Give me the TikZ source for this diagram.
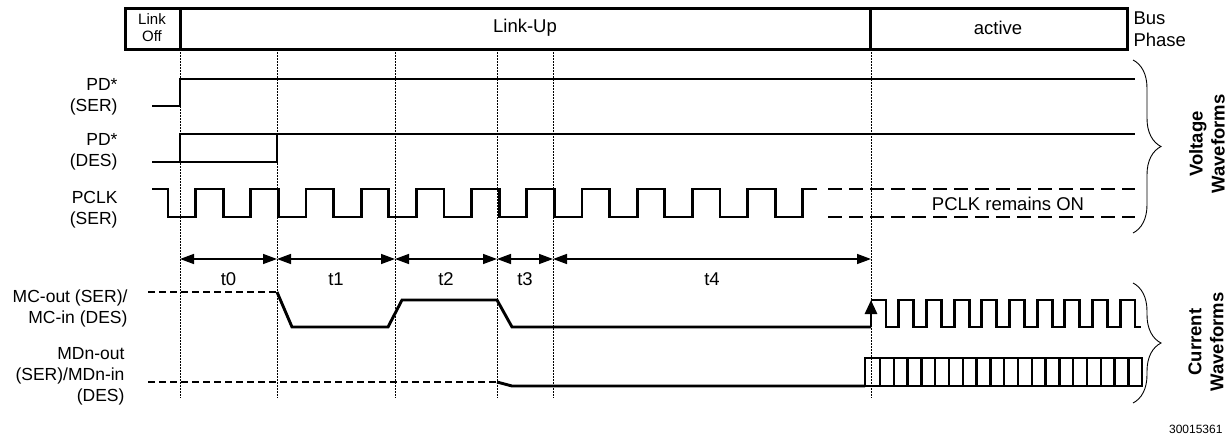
\documentclass[tikz,border=0pt]{standalone}
\usepackage{fontspec}
\setmainfont{Liberation Sans}
\usetikzlibrary{arrows.meta,decorations.pathreplacing}

\begin{document}
\begin{tikzpicture}[x=1pt,y=-1pt,
  wave/.style={line width=2.9pt},
  marker/.style={line width=0.9pt,dash pattern=on 1.6pt off 1.4pt},
  idle/.style={line width=2.9pt,dash pattern=on 7pt off 4pt},
  remain/.style={line width=2.9pt,dash pattern=on 14pt off 7pt},
  span/.style={line width=1.4pt,{Triangle[length=14pt,width=10pt]}-{Triangle[length=14pt,width=10pt]}},
  lbl/.style={font=\fontsize{17.5}{21}\selectfont,align=right,anchor=east},
  hdr/.style={font=\fontsize{18.5}{22}\selectfont},
  group/.style={decorate,decoration={brace,amplitude=28pt},line width=0.9pt},
  side/.style={font=\bfseries\fontsize{18.5}{22}\selectfont,rotate=90,align=center}]
  \useasboundingbox (0,0) rectangle (1229,440);

  % bus phase bar
  \draw[line width=3pt] (125,8) rectangle (1127,49);
  \draw[line width=3pt] (180,8) -- (180,49);
  \draw[line width=3pt] (870,8) -- (870,49);
  \node[font=\fontsize{15}{17}\selectfont,align=center] (off) at (152,28) {Link\\Off};
  \node[hdr] (up) at (525,28) {Link-Up};
  \node[hdr] (act) at (998,28) {active};
  \node[hdr,align=left,anchor=west] (bus) at (1130,29) {Bus\\Phase};

  \foreach \x in {180,277,395,497,553,871}
    \draw[marker] (\x,49) -- (\x,398);

  \node[lbl] (pdser) at (121,97) {PD*\\(SER)};
  \node[lbl] (pddes) at (121,152) {PD*\\(DES)};
  \node[lbl] (pclk) at (121,210) {PCLK\\(SER)};
  \node[lbl] (mc) at (131,308) {MC-out (SER)/\\MC-in (DES)};
  \node[lbl] (mdn) at (128,376) {MDn-out\\(SER)/MDn-in\\(DES)};

  \draw[wave] (152,106) -- (180,106) -- (180,79) -- (1135,79);

  \draw[wave] (152,162) -- (277,162) -- (277,134);
  \draw[wave] (180,162) -- (180,134) -- (1135,134);

  \draw[wave] (152,189) \foreach \k in {0,...,11} {
      -- ({168+55.2*\k},189) -- ({168+55.2*\k},217)
      -- ({195.6+55.2*\k},217) -- ({195.6+55.2*\k},189) } -- (817,189);
  \draw[remain] (828,189) -- (1135,189);
  \draw[remain] (828,217) -- (1135,217);
  \node[hdr] (on) at (1008,204) {PCLK remains ON};

  % intervals
  \coordinate (a0) at (180,259);
  \coordinate (a1) at (277,259);
  \coordinate (a2) at (395,259);
  \coordinate (a3) at (497,259);
  \coordinate (a4) at (553,259);
  \coordinate (a5) at (871,259);
  \draw[span] (a0) -- (a1) node[hdr,midway,below=10pt] (t0) {t0};
  \draw[span] (a1) -- (a2) node[hdr,midway,below=10pt] (t1) {t1};
  \draw[span] (a2) -- (a3) node[hdr,midway,below=10pt] (t2) {t2};
  \draw[span] (a3) -- (a4) node[hdr,midway,below=10pt] (t3) {t3};
  \draw[span] (a4) -- (a5) node[hdr,midway,below=10pt] (t4) {t4};

  \draw[idle] (148,292) -- (277,292);
  \draw[wave] (277,292) -- (292,327) -- (388,327) -- (402,300) -- (497,300)
    -- (512,327) -- (871,327);
  \draw[wave,-{Triangle[length=14pt,width=12pt]}] (871,327) -- (871,300);
  \draw[wave] (871,300) \foreach \k in {0,...,8} {
      -- ({886+27.7*\k},300) -- ({886+27.7*\k},327)
      -- ({898.7+27.7*\k},327) -- ({898.7+27.7*\k},300) }
    -- (1135,300) -- (1135,327) -- (1141,327);

  \draw[idle] (148,382) -- (497,382);
  \draw[wave] (497,382) -- (512,386) -- (865,386);
  \draw[wave] (865,358) rectangle (1142,386);
  \foreach \k in {0,...,18}
    \draw[line width=2.4pt] ({880+13.8*\k},358) -- ++(0,28);

  \draw[group] (1133,60) -- (1133,233);
  \draw[group] (1133,283) -- (1133,403);
  \node[side] (volt) at (1207,144) {Voltage\\Waveforms};
  \node[side] (curr) at (1206,342) {Current\\Waveforms};

  \node[font=\fontsize{12}{14}\selectfont,anchor=east] (num) at (1226,429) {30015361};
\end{tikzpicture}
\end{document}
